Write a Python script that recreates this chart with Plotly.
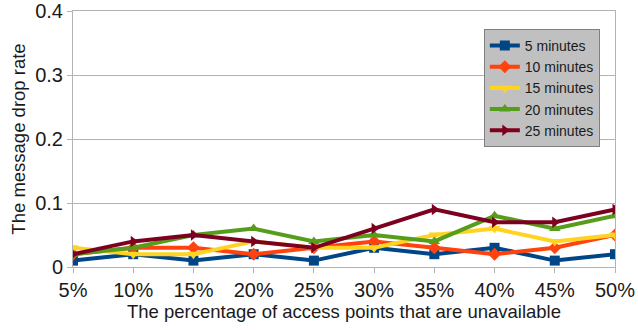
import plotly.graph_objects as go

categories = ["5%", "10%", "15%", "20%", "25%", "30%", "35%", "40%", "45%", "50%"]
series_names = ["5 minutes", "10 minutes", "15 minutes", "20 minutes", "25 minutes"]
v5 = [0.01, 0.02, 0.01, 0.02, 0.01, 0.03, 0.02, 0.03, 0.01, 0.02]
v10 = [0.02, 0.03, 0.03, 0.02, 0.03, 0.04, 0.03, 0.02, 0.03, 0.05]
v15 = [0.03, 0.02, 0.02, 0.04, 0.03, 0.03, 0.05, 0.06, 0.04, 0.05]
v20 = [0.02, 0.03, 0.05, 0.06, 0.04, 0.05, 0.04, 0.08, 0.06, 0.08]
v25 = [0.02, 0.04, 0.05, 0.04, 0.03, 0.06, 0.09, 0.07, 0.07, 0.09]
y_ticks = [0, 0.1, 0.2, 0.3, 0.4]
y_tick_labels = ["0", "0.1", "0.2", "0.3", "0.4"]

colors = ["#004586", "#FF420E", "#FFD320", "#579D1C", "#7E0021"]
symbols = ["square", "diamond", "triangle-down", "triangle-up", "triangle-right"]

fig = go.Figure()
for name, vals, c, s in zip(series_names, [v5, v10, v15, v20, v25], colors, symbols):
    fig.add_trace(go.Scatter(
        x=list(range(len(categories))), y=vals, name=name, mode="lines+markers",
        line=dict(color=c, width=4), marker=dict(symbol=s, size=10, color=c),
    ))

fig.update_layout(
    width=638, height=330,
    margin=dict(l=73, r=23, t=11, b=63),
    paper_bgcolor="white", plot_bgcolor="white",
    font=dict(family="Liberation Sans, Arial, sans-serif", color="#1a1a1a"),
    showlegend=True,
    legend=dict(x=0.758, y=0.93, xanchor="left", yanchor="top",
                bgcolor="#c0c0c0", bordercolor="#808080", borderwidth=1,
                font=dict(size=14), itemwidth=30, tracegroupgap=0),
    xaxis=dict(
        automargin=False,
        tickmode="array", tickvals=list(range(len(categories))), ticktext=categories,
        range=[0, len(categories) - 1], showgrid=False,
        showline=True, linecolor="#b3b3b3", mirror=True,
        ticks="outside", ticklen=5, tickcolor="#b3b3b3",
        tickfont=dict(size=20),
        title=dict(text="The percentage of access points that are unavailable", font=dict(size=18.5), standoff=2),
    ),
    yaxis=dict(
        automargin=False,
        tickmode="array", tickvals=y_ticks, ticktext=y_tick_labels,
        range=[0, 0.4], showgrid=True, gridcolor="#b3b3b3",
        showline=True, linecolor="#b3b3b3", mirror=True,
        ticks="outside", ticklen=5, tickcolor="#b3b3b3",
        tickfont=dict(size=20), zeroline=False,
        title=dict(text="The message drop rate", font=dict(size=18.5), standoff=4),
    ),
)
fig.write_html("out.html")
